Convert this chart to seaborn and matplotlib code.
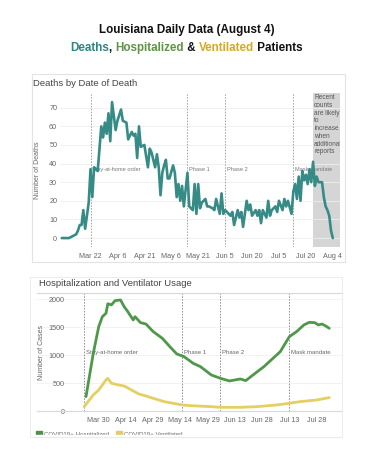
import matplotlib
matplotlib.use("Agg")
import matplotlib.pyplot as plt
import matplotlib.dates as mdates
import pandas as pd
import seaborn as sns
from matplotlib.patches import Rectangle, Patch

# ---- data ----
death_dates = ["03-06", "03-10", "03-12", "03-14", "03-15", "03-16", "03-17", "03-18", "03-19", "03-20",
               "03-21", "03-22", "03-23", "03-24", "03-25", "03-26", "03-28", "03-29", "03-30", "03-31",
               "04-01", "04-02", "04-03", "04-05", "04-06", "04-08", "04-09", "04-11", "04-12", "04-14",
               "04-15", "04-16", "04-17", "04-18", "04-19", "04-21", "04-22", "04-23", "04-24", "04-25",
               "04-27", "04-28", "04-29", "04-30", "05-01", "05-02", "05-03", "05-04", "05-05", "05-07",
               "05-08", "05-09", "05-10", "05-11", "05-12", "05-13", "05-15", "05-16", "05-18", "05-19",
               "05-20", "05-21", "05-22", "05-23", "05-25", "05-26", "05-27", "05-29", "05-30", "05-31",
               "06-02", "06-03", "06-04", "06-05", "06-07", "06-08", "06-09", "06-10", "06-12", "06-13",
               "06-14", "06-15", "06-17", "06-18", "06-19", "06-20", "06-22", "06-23", "06-24", "06-25",
               "06-26", "06-28", "06-29", "06-30", "07-01", "07-03", "07-04", "07-05", "07-07", "07-08",
               "07-09", "07-10", "07-12", "07-13", "07-14", "07-15", "07-16", "07-17", "07-18", "07-19",
               "07-20", "07-21", "07-22", "07-23", "07-24", "07-25", "07-26", "07-27", "07-29", "07-30",
               "07-31", "08-01", "08-02", "08-03", "08-04"]
death_counts = [0, 0, 1, 2, 4, 7, 7, 15, 5, 12,
                19, 37, 22, 38, 37, 36, 60, 54, 62, 56,
                67, 52, 73, 58, 63, 69, 63, 62, 53, 57,
                55, 56, 43, 60, 49, 50, 44, 38, 48, 46,
                38, 45, 38, 23, 35, 39, 42, 32, 32, 39,
                35, 22, 29, 20, 28, 17, 35, 17, 15, 29,
                13, 29, 16, 19, 21, 17, 17, 16, 15, 21,
                13, 24, 13, 15, 13, 12, 14, 7, 15, 11,
                14, 6, 20, 15, 18, 12, 15, 12, 15, 8,
                15, 11, 20, 12, 15, 17, 14, 20, 15, 21,
                17, 20, 13, 25, 29, 21, 33, 20, 36, 31,
                34, 29, 37, 30, 41, 28, 33, 30, 30, 22,
                17, 15, 12, 4, 0]

hosp_dates = ["03-23", "03-27", "03-30", "04-01", "04-03", "04-04", "04-06", "04-08", "04-11", "04-13",
              "04-15", "04-18", "04-19", "04-22", "04-25", "04-29", "05-04", "05-09", "05-12", "05-16",
              "05-21", "05-25", "05-31", "06-05", "06-10", "06-16", "06-19", "06-23", "06-29", "07-04",
              "07-08", "07-13", "07-17", "07-21", "07-24", "07-27", "07-29", "07-31", "08-02", "08-04"]
hosp_counts = [262, 1036, 1512, 1690, 1750, 1920, 1900, 1976, 1988, 1869,
               1780, 1631, 1690, 1583, 1559, 1423, 1304, 1125, 1024, 976,
               857, 798, 649, 589, 542, 577, 548, 649, 798, 946,
               1065, 1333, 1423, 1542, 1589, 1583, 1542, 1559, 1524, 1482]

vent_dates = ["03-22", "03-27", "03-30", "04-03", "04-04", "04-06", "04-10", "04-13", "04-17", "04-21",
              "04-25", "04-29", "05-05", "05-10", "05-15", "05-20", "05-31", "06-05", "06-16", "06-25",
              "07-06", "07-13", "07-19", "07-28", "08-04"]
vent_counts = [83, 292, 381, 560, 589, 500, 470, 452, 381, 310,
               274, 232, 173, 143, 113, 100, 83, 71, 71, 83,
               113, 143, 173, 202, 244]

event_dates = ["03-22", "05-15", "06-05", "07-13"]
event_labels = ["Stay-at-home order", "Phase 1", "Phase 2", "Mask mandate"]

top_ticks = ["Mar 22", "Apr 6", "Apr 21", "May 6", "May 21", "Jun 5", "Jun 20", "Jul 5", "Jul 20", "Aug 4"]
bottom_ticks = ["Mar 30", "Apr 14", "Apr 29", "May 14", "May 29", "Jun 13", "Jun 28", "Jul 13", "Jul 28"]
series_names = ["COVID19+ Hospitalized", "COVID19+ Ventilated"]
recent_note = "Recent\ncounts\nare likely\nto\nincrease\nwhen\nadditional\nreports"

headline = "Louisiana Daily Data (August 4)"
subhead_words = ["Deaths", ", ", "Hospitalized", " & ", "Ventilated", " Patients"]
subhead_colors = ["#2e8585", "#111111", "#5f9447", "#111111", "#d3a928", "#111111"]


def d(s):
    return pd.Timestamp("2020-" + s)


def tick_date(s):
    return pd.to_datetime("2020 " + s, format="%Y %b %d")


TEAL = "#368b86"
GREEN = "#4f984a"
YELLOW = "#e4cf62"
GREY_TXT = "#666666"

sns.set_theme(style="white")
plt.rcParams["font.family"] = ["Liberation Sans", "DejaVu Sans"]

W, H = 373, 450
fig = plt.figure(figsize=(W / 100, H / 100), dpi=100)
renderer = fig.canvas.get_renderer()


def box(l, t, r, b):
    return [l / W, 1 - b / H, (r - l) / W, (b - t) / H]


# ---- headline ----
head_kw = dict(fontsize=8.4, fontweight="bold", va="center")
fig.text(0.5, 1 - 30 / H, headline, ha="center", color="#111111", **head_kw)


def text_width(s):
    t = fig.text(0, 0, s + "|", **head_kw)
    w = t.get_window_extent(renderer).width
    t.remove()
    return w


bar_w = text_width("")
full_w = text_width("".join(subhead_words)) - bar_w
x0 = W / 2 - full_w / 2
for i, (word, col) in enumerate(zip(subhead_words, subhead_colors)):
    off = text_width("".join(subhead_words[:i])) - bar_w if i else 0
    fig.text((x0 + off) / W, 1 - 48 / H, word, ha="left", color=col, **head_kw)

# ---- cards ----
fig.add_artist(Rectangle((32 / W, 1 - 262 / H), (345 - 32) / W, (262 - 74) / H,
                         transform=fig.transFigure, fill=False, ec="#e3e3e3", lw=0.8))

# ---- deaths chart ----
ax1 = fig.add_axes(box(60, 93, 340, 247))
deaths = pd.DataFrame({"date": [d(s) for s in death_dates], "deaths": death_counts})
sns.lineplot(data=deaths, x="date", y="deaths", ax=ax1, color=TEAL, lw=1.9, zorder=3)
ax1.set_xlim(d("03-05"), d("08-08"))
ax1.set_ylim(-4.8, 77.9)
ax1.axvspan(d("07-24"), d("08-08"), color="#d5d5d5", zorder=0, lw=0)
ax1.set_yticks(range(0, 80, 10))
ax1.set_xticks([tick_date(s) for s in top_ticks])
ax1.set_xticklabels(top_ticks)
ax1.grid(axis="y", color="#eeeeee", lw=0.6, zorder=0)
for s in ax1.spines.values():
    s.set_visible(False)
ax1.tick_params(axis="both", length=0, labelsize=5.2, colors=GREY_TXT)
ax1.tick_params(axis="x", pad=4)
ax1.tick_params(axis="y", pad=2)
ax1.set_xlabel("")
ax1.set_ylabel("Number of Deaths", fontsize=5, color=GREY_TXT)
ax1.yaxis.set_label_coords(-0.069, 0.5)
for s, lab in zip(event_dates, event_labels):
    x = mdates.date2num(d(s))
    ax1.axvline(x, color="#a0a0a0", lw=0.7, ls=(0, (1.5, 1.5)), zorder=1)
    ax1.text(x + 0.8, 37, lab, fontsize=4.1, color="#777777", va="center", ha="left", zorder=2)
ax1.text(mdates.date2num(d("07-24")) + 0.6, 77.3, recent_note, fontsize=4.7, color="#555555",
         va="top", ha="left", linespacing=1.15, clip_on=True, zorder=2)
fig.text(33 / W, 1 - 84 / H, "Deaths by Date of Death", fontsize=6.8, color="#444444", va="center")

# ---- hospitalization chart ----
ax2 = fig.add_axes(box(37, 293.3, 342, 411.3))
usage = pd.concat([
    pd.DataFrame({"date": [d(s) for s in hosp_dates], "cases": hosp_counts, "series": series_names[0]}),
    pd.DataFrame({"date": [d(s) for s in vent_dates], "cases": vent_counts, "series": series_names[1]}),
])
sns.lineplot(data=usage, x="date", y="cases", hue="series", ax=ax2,
             palette={series_names[0]: GREEN, series_names[1]: YELLOW}, lw=2.0, legend=False, zorder=3)
ax2.set_xlim(d("02-25"), d("08-11"))
ax2.set_ylim(0, 2107)
ax2.set_yticks([0, 500, 1000, 1500, 2000])
ax2.set_xticks([tick_date(s) for s in bottom_ticks])
ax2.set_xticklabels(bottom_ticks)
ax2.grid(axis="y", color="#f0f0f0", lw=0.6, zorder=0)
for k, s in ax2.spines.items():
    s.set_visible(k in ("top", "bottom"))
    s.set_color("#d8d8d8")
    s.set_linewidth(0.8)
ax2.tick_params(axis="both", length=0, labelsize=5.2, colors=GREY_TXT)
ax2.tick_params(axis="x", pad=4)
ax2.tick_params(axis="y", pad=-20)
ax2.set_xlabel("")
ax2.set_ylabel("Number of Cases", fontsize=5, color=GREY_TXT)
ax2.yaxis.set_label_coords(0.026, 0.5)
for s, lab in zip(event_dates, event_labels):
    x = mdates.date2num(d(s))
    ax2.axvline(x, color="#8a8a8a", lw=0.7, ls=(0, (1.5, 1.5)), zorder=1)
    ax2.text(x + 0.8, 1046, lab, fontsize=4.3, color="#666666", va="center", ha="left", zorder=2)
fig.text(39 / W, 1 - 284 / H, "Hospitalization and Ventilator Usage", fontsize=6.8,
         color="#444444", va="center")

fig.legend(handles=[Patch(color="#4f8f4f"), Patch(color="#e2cc6a")], labels=series_names,
           loc="center left", bbox_to_anchor=(36 / W, 1 - 434 / H), ncol=2, frameon=False,
           fontsize=4.4, handlelength=0.9, handleheight=0.9, handletextpad=0.4,
           columnspacing=1.2, borderpad=0, borderaxespad=0, labelcolor=GREY_TXT)

# legend is cut off by the card edge in the original
fig.add_artist(Rectangle((0, 0), 1, 1 - 434.6 / H, transform=fig.transFigure,
                         color="white", zorder=10))
fig.add_artist(plt.Line2D([33 / W, 342 / W], [1 - 436.7 / H] * 2, transform=fig.transFigure,
                          color="#e6e6e6", lw=0.8, zorder=11))
fig.add_artist(Rectangle((30 / W, 1 - 436.7 / H), (342 - 30) / W, (436.7 - 277) / H,
                         transform=fig.transFigure, fill=False, ec="#ececec", lw=0.7, zorder=11))

fig.savefig("out.png", dpi=100)
